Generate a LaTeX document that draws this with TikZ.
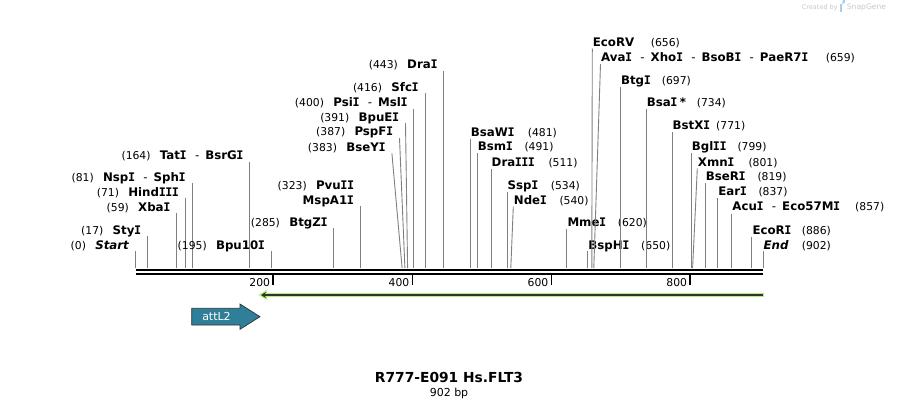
\documentclass[tikz,border=0pt]{standalone}
\usepackage{fontspec}
\setmainfont{DejaVu Sans}
\newfontfamily\monoI{DejaVu Sans Mono}
\usetikzlibrary{arrows.meta}
\definecolor{sitegray}{RGB}{128,128,128}
\definecolor{featgreen}{RGB}{182,240,122}
\definecolor{darkline}{RGB}{50,50,50}
\definecolor{atteal}{RGB}{47,127,152}
\definecolor{wmgray}{RGB}{200,200,200}
\definecolor{wmblue}{RGB}{170,205,235}
\newcommand\nmf{\fontsize{10.8}{13}\selectfont\mdseries}
\newcommand\dsh{\hspace{8.5pt}{\mdseries-}\hspace{6pt}}
\newcommand\Ii{{\monoI\kern-0.3pt I\kern-0.3pt}}
\newcommand\Lsite[6]{%
  \coordinate (b#1) at (#2,268);
  \coordinate (t#1) at (#3,#4);
  \draw[site] (b#1) -- (t#1);
  \node[lbl,anchor=base east] (l#1) at ({#3-6.3},{#5+4.2}) {{\nmf(#1)}\hspace{9.3pt}#6};
}
\newcommand\Rsite[7]{%
  \coordinate (b#1) at (#2,268);
  \coordinate (t#1) at (#3,#4);
  \draw[site] (b#1) -- (t#1);
  \node[lbl,anchor=base west] (l#1) at ({#3+0.4},{#5+4.2}) {#6};
  \node[numl,anchor=base west] (n#1) at (#7,{#5+4.2}) {(#1)};
}
\begin{document}
\begin{tikzpicture}[x=1pt,y=-1pt,
  site/.style={draw=sitegray,line width=0.9pt},
  lbl/.style={font=\fontsize{11.8}{13}\selectfont\bfseries,inner sep=0pt},
  numl/.style={font=\nmf,inner sep=0pt},
  ticklbl/.style={font=\fontsize{10.8}{13}\selectfont,inner sep=0pt,anchor=base east}]
\useasboundingbox[fill=white] (0,0) rectangle (899,408);

% watermark
\node[font=\fontsize{6.5}{8}\selectfont,text=wmgray,inner sep=0pt,anchor=west] (wm1) at (801.7,7.3) {Created by};
\fill[wmblue] (839.6,3.6) rectangle (841.6,11.8);
\fill[wmblue] (841.6,3.6) -- (843,3.6) arc[start angle=90,end angle=-90,radius=2.3] -- (841.6,8.2) -- cycle;
\node[font=\fontsize{7.6}{9}\selectfont,text=wmgray,inner sep=0pt,anchor=west] (wm2) at (846.7,7.3) {SnapGene};

% backbone
\coordinate (bbL1) at (135.7,270); \coordinate (bbR1) at (763,270);
\coordinate (bbL2) at (135.7,273.8); \coordinate (bbR2) at (763,273.8);
\draw[line width=2pt] (bbL1) -- (bbR1);
\draw[line width=2.6pt] (bbL2) -- (bbR2);

% ticks
\foreach \v/\tx in {200/273.3,400/412.5,600/551.5,800/690.3}{
  \coordinate (tk\v a) at (\tx,275);
  \coordinate (tk\v b) at (\tx,284.5);
  \draw[line width=1.7pt] (tk\v a) -- (tk\v b);
  \node[ticklbl] (tl\v) at ({\tx-3},286) {\v};
}

% left-side sites
\Lsite{0}{135.7}{135.7}{250.7}{245}{\textit{Start}}
\Lsite{17}{147.5}{147.5}{236}{230}{Sty\Ii}
\Lsite{59}{176.7}{176.7}{213}{207}{Xba\Ii}
\Lsite{71}{185.1}{185.1}{198}{192}{Hind\Ii\Ii\Ii}
\Lsite{81}{192.0}{192.0}{183}{177}{Nsp\Ii\dsh Sph\Ii}
\Lsite{164}{249.8}{249.8}{162}{155.5}{Tat\Ii\dsh BsrG\Ii}
\Lsite{195}{271.3}{271.3}{250.7}{245}{Bpu10\Ii}
\Lsite{285}{333.9}{333.9}{228}{222}{BtgZ\Ii}
% 323 split over two rows
\coordinate (b323) at (360.3,268);
\coordinate (t323) at (360.3,206);
\draw[site] (b323) -- (t323);
\node[lbl,anchor=base east] (l323a) at (354,189.2) {{\nmf(323)}\hspace{9.3pt}Pvu\Ii\Ii};
\node[lbl,anchor=base east] (l323b) at (354,204.2) {MspA1\Ii};
\Lsite{383}{402.1}{391.9}{153.3}{147}{BseY\Ii}
\Lsite{387}{404.9}{399.5}{138}{131.5}{PspF\Ii}
\Lsite{391}{407.6}{405.5}{123}{117}{BpuE\Ii}
\Lsite{400}{413.9}{413.9}{108.5}{102}{Psi\Ii\dsh Msl\Ii}
\Lsite{416}{425.0}{425.0}{93}{87}{Sfc\Ii}
\Lsite{443}{443.8}{443.8}{71}{64.5}{Dra\Ii}

% right-side sites
\Rsite{481}{470.2}{470.2}{138.5}{132.3}{BsaW\Ii}{527.7}
\Rsite{491}{477.2}{477.2}{153}{146.5}{Bsm\Ii}{524.3}
\Rsite{511}{491.1}{491.1}{168.5}{162.3}{Dra\Ii\Ii\Ii}{548.3}
\Rsite{534}{507.1}{507.1}{191.5}{185.5}{Ssp\Ii}{550.7}
\Rsite{540}{510.8}{513.3}{206.5}{200.5}{Nde\Ii}{559.3}
\Rsite{620}{566.9}{566.9}{228.5}{222}{Mme\Ii}{617.7}
\Rsite{650}{587.8}{587.8}{251}{245}{BspH\Ii}{641}
\Rsite{656}{591.8}{592.3}{48.5}{42.3}{EcoRV}{650.7}
\Rsite{659}{593.8}{600.5}{64}{57.3}{Ava\Ii\dsh Xho\Ii\dsh BsoB\Ii\dsh PaeR7\Ii}{825.7}
\Rsite{697}{620.5}{620.5}{87}{80.7}{Btg\Ii}{661.7}
\Rsite{734}{646.2}{646.2}{109}{102.3}{Bsa\Ii\hspace{2.5pt}*}{696.7}
\Rsite{771}{672.0}{672.0}{131.5}{125}{BstX\Ii}{716}
\Rsite{799}{691.2}{691.2}{153.3}{146.7}{Bgl\Ii\Ii}{737.3}
\Rsite{801}{692.6}{697.3}{168.5}{162.3}{Xmn\Ii}{748.3}
\Rsite{819}{705.3}{705.3}{183}{176.7}{BseR\Ii}{757.3}
\Rsite{837}{717.8}{717.8}{198}{191.7}{Ear\Ii}{758.3}
\Rsite{857}{731.8}{731.8}{213.5}{206.7}{Acu\Ii\dsh Eco57M\Ii}{855}
\Rsite{886}{751.9}{751.9}{236.5}{230}{EcoR\Ii}{801.7}
\Rsite{902}{763}{763}{251}{245}{\textit{End}}{801.7}

% green feature arrow
\coordinate (gR) at (763.5,295);
\coordinate (gL) at (261,295);
\fill[featgreen] (258.5,295) -- (267,289.8) -- (267,300.2) -- cycle;
\draw[featgreen,line width=4.6pt] (gR) -- (265,295);
\draw[darkline,line width=1.4pt,-{Stealth[length=5pt,width=6pt]}] (763,295) -- (gL);

% attL2 feature
\path[fill=atteal,draw=darkline,line width=0.7pt]
  (191.7,308.3) -- (240,308.3) -- (240,304) -- (260,316.7) -- (240,329.3) -- (240,325) -- (191.7,325) -- cycle;
\node[font=\fontsize{11}{13}\selectfont,text=white,inner sep=0pt] (att) at (216.5,316.7) {attL2};

% title
\node[font=\fontsize{13.8}{16}\selectfont\bfseries,inner sep=0pt,anchor=base] (title) at (449,382.3) {R777-E091 Hs.FLT3};
\node[font=\fontsize{11}{13}\selectfont,inner sep=0pt,anchor=base] (bp) at (449,396.7) {902 bp};
\end{tikzpicture}
\end{document}
